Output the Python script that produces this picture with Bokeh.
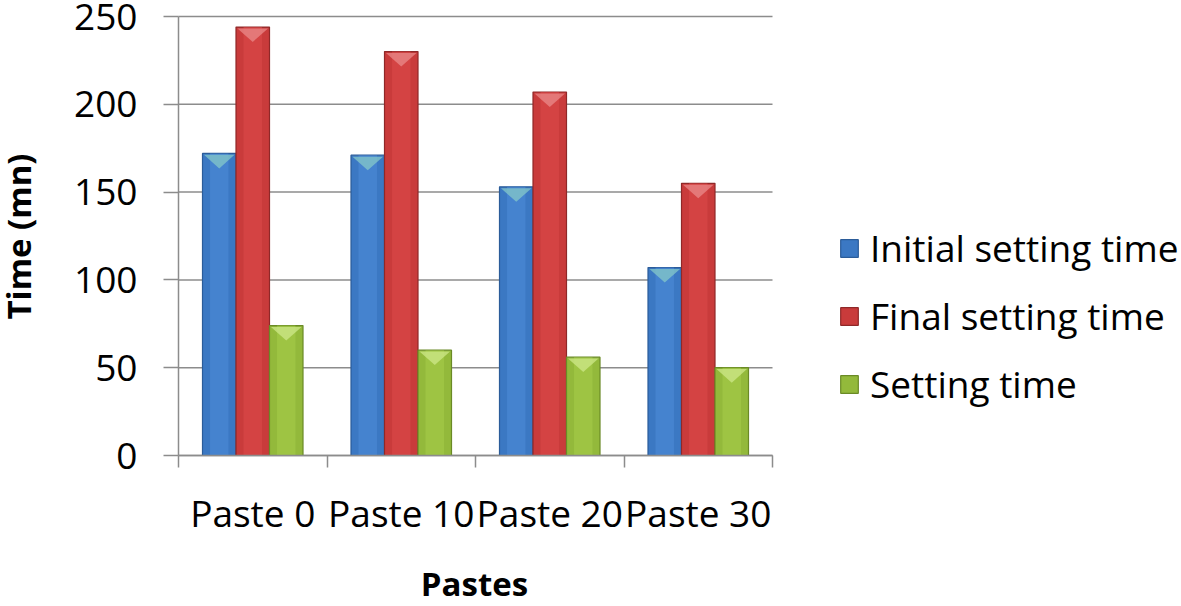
import numpy as np
from bokeh.plotting import figure
from bokeh.models import Range1d, FixedTicker, Legend, LegendItem, Label
from bokeh.embed import file_html
from bokeh.resources import INLINE

# ---- data ----
pastes = ["Paste 0", "Paste 10", "Paste 20", "Paste 30"]
initial_setting = [172, 171, 153, 107]
final_setting = [244, 230, 207, 155]
setting_time = [74, 60, 56, 50]
series_names = ["Initial setting time", "Final setting time", "Setting time"]
y_ticks = [0, 50, 100, 150, 200, 250]
x_title = "Pastes"
y_title = "Time (mn)"

# ---- layout (pixels) ----
FIG_W, FIG_H = 1181, 605
TOP = 0
AXIS_X_PX = 178       # pixel column of the y axis
AREA_W = 594          # width of the category area
ZERO_PX = 455         # pixel row of y = 0 (from top of figure)
TOP_TICK_PX = 16      # pixel row of the highest tick
px_per_cat = AREA_W / len(pastes)
x_start = -AXIS_X_PX / px_per_cat
x_end = (FIG_W - AXIS_X_PX) / px_per_cat
px_per_unit = (ZERO_PX - TOP_TICK_PX) / y_ticks[-1]
y_end = y_ticks[-1] + (TOP_TICK_PX - TOP) / px_per_unit
y_start = -(FIG_H - ZERO_PX) / px_per_unit

FONT = "Open Sans"
GRID = "#8C8C8C"
fills = ["#3B78C3", "#C93B3B", "#93B93B"]
lights = ["#4F8DD8", "#DC4A4A", "#A7CD4A"]
tops = ["#86C8C8", "#E98A8A", "#CDE88A"]
edges = ["#2B5C99", "#8F2828", "#6A8A26"]

p = figure(width=FIG_W, height=FIG_H, output_backend="svg", toolbar_location=None,
           x_range=Range1d(x_start, x_end), y_range=Range1d(y_start, y_end),
           min_border_left=0, min_border_right=0, min_border_top=TOP,
           min_border_bottom=0)
p.outline_line_color = None
p.background_fill_color = "white"
p.border_fill_color = "white"

# horizontal grid lines over the category area only
p.xgrid.visible = False
p.ygrid.visible = False
p.segment(x0=0, x1=len(pastes), y0=y_ticks, y1=y_ticks, line_color=GRID, line_width=1.5)

centers = np.arange(len(pastes)) + 0.5
bw = 0.2256
series = [initial_setting, final_setting, setting_time]
items = []
for k, vals in enumerate(series):
    xs = centers + (k - 1) * bw
    vals = np.array(vals, dtype=float)
    r = p.vbar(x=xs, top=vals, bottom=0, width=bw, fill_color=fills[k],
               line_color=edges[k], line_width=1.2)
    p.vbar(x=xs, top=vals, bottom=0, width=bw * 0.55, fill_color=lights[k],
           fill_alpha=0.55, line_color=None)
    vx = [[x - bw / 2 + 0.01, x + bw / 2 - 0.01, x] for x in xs]
    vy = [[t - 0.8, t - 0.8, t - 8.5] for t in vals]
    p.patches(vx, vy, fill_color=tops[k], fill_alpha=0.75, line_color=None)
    items.append(LegendItem(label=series_names[k], renderers=[r]))

# y axis drawn at x = 0
ya = p.yaxis[0]
ya.fixed_location = 0
ya.bounds = (y_ticks[0], y_ticks[-1])
ya.ticker = FixedTicker(ticks=y_ticks, minor_ticks=[])
ya.axis_line_color = GRID
ya.axis_line_width = 1.5
ya.major_tick_line_color = GRID
ya.major_tick_line_width = 1.5
ya.major_tick_out = 15
ya.major_tick_in = 0
ya.minor_tick_out = 0
ya.minor_tick_in = 0
ya.major_label_standoff = 26
ya.major_label_text_font = FONT
ya.major_label_text_font_size = "37px"
ya.major_label_text_color = "black"

# x axis drawn at y = 0
xa = p.xaxis[0]
xa.fixed_location = 0
xa.bounds = (0, len(pastes))
xa.ticker = FixedTicker(ticks=list(centers), minor_ticks=list(range(len(pastes) + 1)))
xa.major_label_overrides = {float(c): name for c, name in zip(centers, pastes)}
xa.axis_line_color = GRID
xa.axis_line_width = 1.5
xa.major_tick_out = 0
xa.major_tick_in = 0
xa.minor_tick_out = 12
xa.minor_tick_in = 0
xa.minor_tick_line_color = GRID
xa.minor_tick_line_width = 1.5
xa.major_label_standoff = 19
xa.major_label_text_font = FONT
xa.major_label_text_font_size = "37px"
xa.major_label_text_color = "black"

# axis titles
p.add_layout(Label(x=474, y=22, x_units="screen", y_units="screen", text=x_title,
                   text_align="center", text_baseline="middle",
                   text_font=FONT, text_font_style="bold", text_font_size="33px",
                   text_color="black"))
p.add_layout(Label(x=18, y=FIG_H - 236, x_units="screen", y_units="screen",
                   text=y_title, angle=np.pi / 2, angle_units="rad",
                   text_align="center", text_baseline="middle",
                   text_font=FONT, text_font_style="bold", text_font_size="33px",
                   text_color="black"))

legend = Legend(items=items, location=(838, 196), orientation="vertical",
                label_text_font=FONT, label_text_font_size="37px",
                label_text_color="black", glyph_width=22, glyph_height=22,
                label_standoff=10, spacing=17, padding=0, margin=0,
                border_line_color=None, background_fill_alpha=0)
p.add_layout(legend)

open("out.html", "w").write(file_html(p, INLINE))
